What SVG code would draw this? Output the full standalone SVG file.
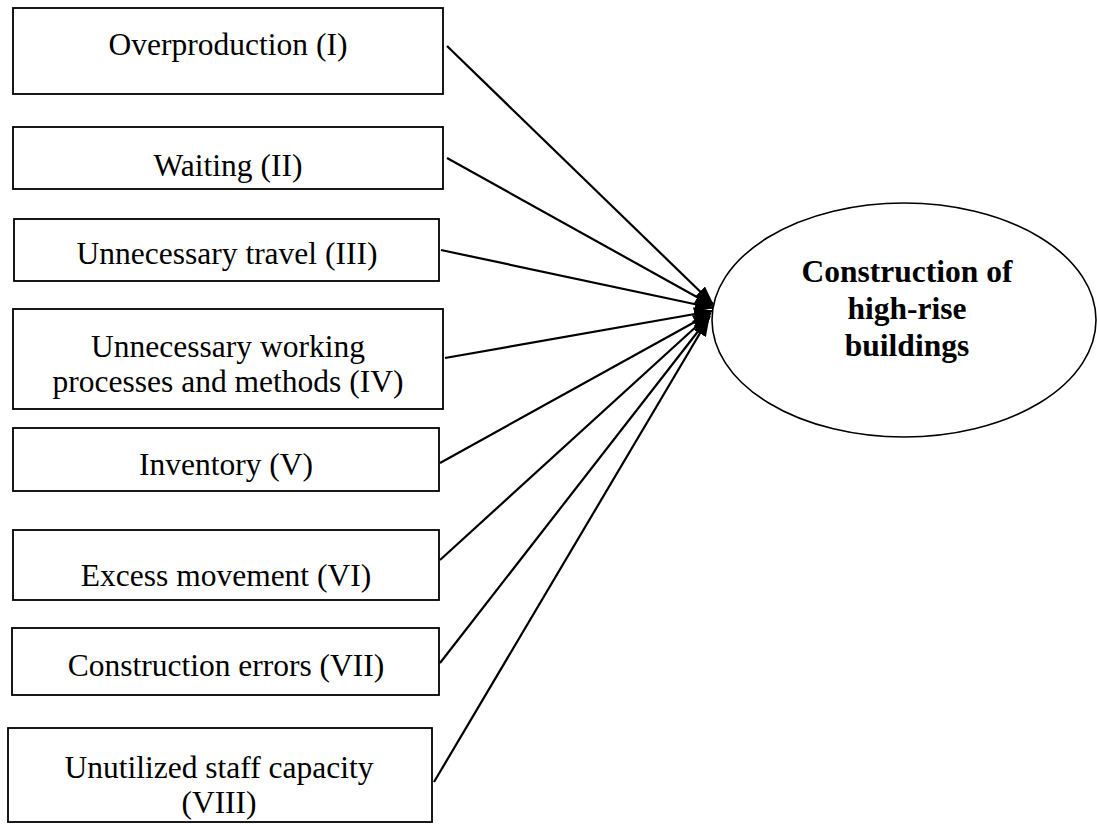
<svg xmlns="http://www.w3.org/2000/svg" width="1097" height="824" viewBox="0 0 1097 824">
  <style>
    .box { fill: #ffffff; stroke: #000000; stroke-width: 1.8; }
    .lbl { font-family: "Liberation Serif", "Times New Roman", serif; font-size: 31.5px; fill: #000000; text-anchor: middle; }
    .title { font-family: "Liberation Serif", "Times New Roman", serif; font-size: 31.5px; font-weight: bold; fill: #000000; text-anchor: middle; }
    .edge { fill: none; stroke: #000000; stroke-width: 2.2; marker-end: url(#arrow); }
    .target { fill: #ffffff; stroke: #000000; stroke-width: 1.6; }
  </style>
  <defs>
    <marker id="arrow" markerUnits="userSpaceOnUse" markerWidth="19" markerHeight="14" refX="18" refY="7" orient="auto">
      <path d="M0,0 L19,7 L0,14 Z" fill="#000000"/>
    </marker>
  </defs>
  <rect width="1097" height="824" fill="#ffffff"/>

  <!-- waste categories -->
  <g id="node-overproduction">
    <rect class="box" x="13" y="8" width="430" height="86"/>
    <text class="lbl" x="228" y="55">Overproduction (I)</text>
  </g>
  <g id="node-waiting">
    <rect class="box" x="13" y="127" width="430" height="62"/>
    <text class="lbl" x="228" y="176">Waiting (II)</text>
  </g>
  <g id="node-travel">
    <rect class="box" x="14" y="219" width="425" height="62"/>
    <text class="lbl" x="227" y="264">Unnecessary travel (III)</text>
  </g>
  <g id="node-processes">
    <rect class="box" x="13" y="309" width="430" height="100"/>
    <text class="lbl" x="228" y="357">Unnecessary working</text>
    <text class="lbl" x="228" y="392">processes and methods (IV)</text>
  </g>
  <g id="node-inventory">
    <rect class="box" x="13" y="428" width="426" height="63"/>
    <text class="lbl" x="226" y="475">Inventory (V)</text>
  </g>
  <g id="node-movement">
    <rect class="box" x="13" y="530" width="426" height="70"/>
    <text class="lbl" x="226" y="586">Excess movement (VI)</text>
  </g>
  <g id="node-errors">
    <rect class="box" x="12" y="628" width="427" height="67"/>
    <text class="lbl" x="226" y="676">Construction errors (VII)</text>
  </g>
  <g id="node-staff">
    <rect class="box" x="8" y="728" width="424" height="94"/>
    <text class="lbl" x="219" y="778">Unutilized staff capacity</text>
    <text class="lbl" x="219" y="813">(VIII)</text>
  </g>

  <!-- target -->
  <g id="node-construction">
    <ellipse class="target" cx="904" cy="320" rx="192" ry="117"/>
    <text class="title" x="907" y="282">Construction of</text>
    <text class="title" x="907" y="319">high-rise</text>
    <text class="title" x="907" y="356">buildings</text>
  </g>

  <!-- connectors -->
  <g id="connectors">
    <line class="edge" x1="447" y1="46" x2="713" y2="304"/>
    <line class="edge" x1="447" y1="158" x2="713" y2="306"/>
    <line class="edge" x1="441" y1="250" x2="713" y2="308"/>
    <line class="edge" x1="445" y1="358" x2="712" y2="311"/>
    <line class="edge" x1="440" y1="463" x2="711" y2="313"/>
    <line class="edge" x1="440" y1="560" x2="710" y2="314"/>
    <line class="edge" x1="440" y1="663" x2="710" y2="316"/>
    <line class="edge" x1="434" y1="782" x2="709" y2="318"/>
  </g>
</svg>
